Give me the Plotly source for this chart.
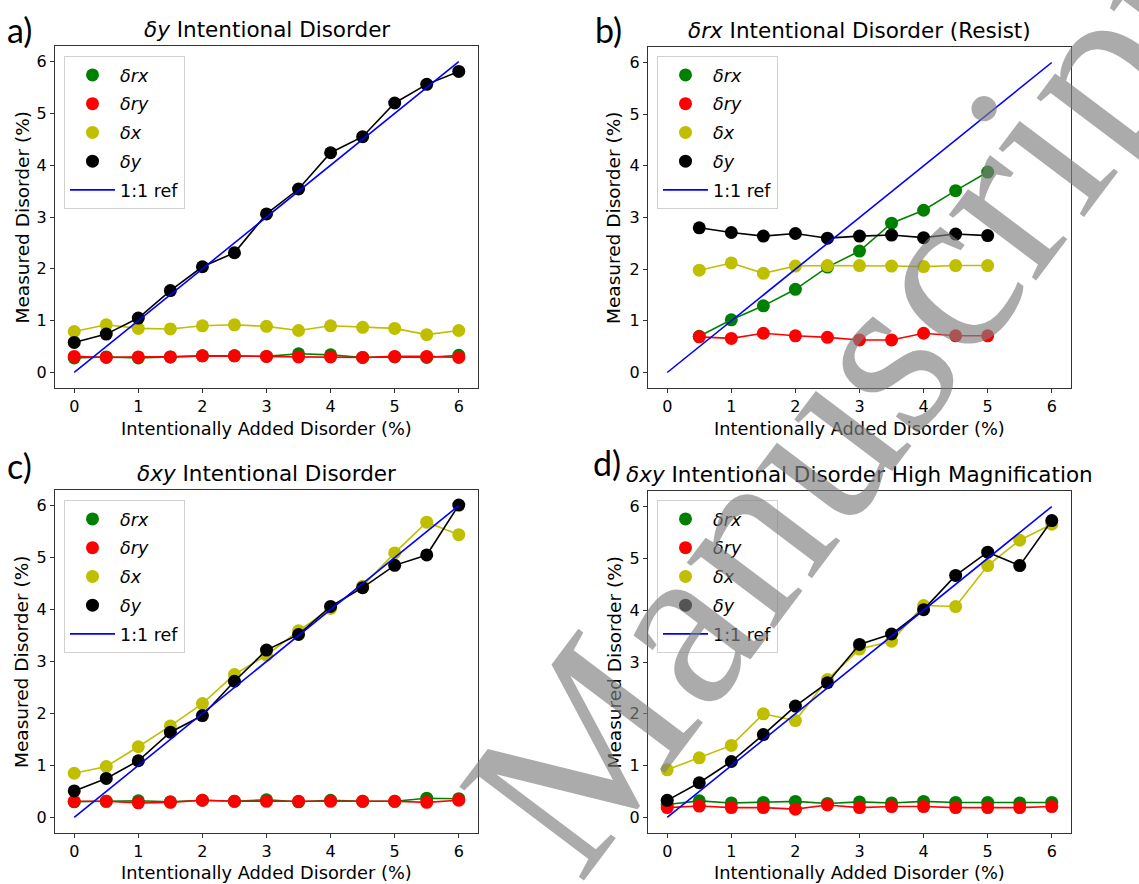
import plotly.graph_objects as go

# ---------------- data ----------------
x_full = [0, 0.5, 1, 1.5, 2, 2.5, 3, 3.5, 4, 4.5, 5, 5.5, 6]
x_b = [0.5, 1, 1.5, 2, 2.5, 3, 3.5, 4, 4.5, 5]
ref_x = [0, 6]
ref_y = [0, 6]

a_rx = [0.28, 0.30, 0.28, 0.30, 0.32, 0.32, 0.31, 0.36, 0.34, 0.29, 0.30, 0.29, 0.33]
a_ry = [0.31, 0.29, 0.30, 0.30, 0.32, 0.32, 0.31, 0.30, 0.30, 0.29, 0.31, 0.31, 0.29]
a_x = [0.79, 0.92, 0.85, 0.84, 0.90, 0.92, 0.89, 0.81, 0.90, 0.87, 0.85, 0.73, 0.81]
a_y = [0.58, 0.74, 1.05, 1.58, 2.04, 2.31, 3.06, 3.54, 4.24, 4.55, 5.20, 5.56, 5.81]

b_rx = [0.70, 1.02, 1.29, 1.61, 2.04, 2.35, 2.89, 3.14, 3.52, 3.88]
b_ry = [0.69, 0.66, 0.76, 0.71, 0.68, 0.63, 0.63, 0.76, 0.71, 0.71]
b_x = [1.98, 2.12, 1.92, 2.06, 2.07, 2.07, 2.06, 2.05, 2.07, 2.07]
b_y = [2.80, 2.71, 2.64, 2.69, 2.60, 2.64, 2.66, 2.61, 2.68, 2.65]

c_rx = [0.30, 0.31, 0.32, 0.30, 0.33, 0.31, 0.34, 0.30, 0.33, 0.31, 0.31, 0.37, 0.36]
c_ry = [0.31, 0.31, 0.28, 0.29, 0.33, 0.31, 0.31, 0.31, 0.31, 0.31, 0.31, 0.29, 0.33]
c_x = [0.85, 0.98, 1.36, 1.76, 2.19, 2.75, 3.12, 3.59, 4.02, 4.45, 5.09, 5.68, 5.44]
c_y = [0.51, 0.75, 1.09, 1.64, 1.96, 2.62, 3.22, 3.52, 4.06, 4.42, 4.85, 5.05, 6.01]

d_rx = [0.25, 0.32, 0.28, 0.29, 0.31, 0.27, 0.30, 0.28, 0.31, 0.29, 0.29, 0.28, 0.29]
d_ry = [0.19, 0.22, 0.19, 0.19, 0.16, 0.24, 0.19, 0.21, 0.21, 0.19, 0.19, 0.19, 0.21]
d_x = [0.92, 1.15, 1.39, 2.00, 1.87, 2.66, 3.25, 3.40, 4.09, 4.07, 4.86, 5.35, 5.66]
d_y = [0.33, 0.67, 1.08, 1.60, 2.15, 2.60, 3.34, 3.54, 4.01, 4.67, 5.12, 4.86, 5.73]

series_names = ["<i>δrx</i>", "<i>δry</i>", "<i>δx</i>", "<i>δy</i>"]
series_colors = ["#008000", "#ff0000", "#bfbf00", "#000000"]
ref_name = "1:1 ref"
ref_color = "#0000ff"

panel_labels = ["a)", "b)", "c)", "d)"]
panel_titles = [
    "<i>δy</i> Intentional Disorder",
    "<i>δrx</i> Intentional Disorder (Resist)",
    "<i>δxy</i> Intentional Disorder",
    "<i>δxy</i> Intentional Disorder High Magnification",
]
x_title = "Intentionally Added Disorder (%)"
y_title = "Measured Disorder (%)"
tick_vals = [0, 1, 2, 3, 4, 5, 6]
watermark = "Manuscript"

panels = [
    (x_full, [a_rx, a_ry, a_x, a_y]),
    (x_b, [b_rx, b_ry, b_x, b_y]),
    (x_full, [c_rx, c_ry, c_x, c_y]),
    (x_full, [d_rx, d_ry, d_x, d_y]),
]

# ---------------- layout geometry (pixels) ----------------
W, H = 1139, 884
boxes = [  # left, right, top, bottom
    (55, 478, 46, 388),
    (648, 1071, 47, 388),
    (55, 478, 490, 833),
    (648, 1071, 491, 833),
]
label_pos = [(5, 30), (593, 30), (5, 465), (591, 462)]
xlabel_mid = [428.5, 428.5, 872, 872]
ylabel_x = [21.5, 613.5, 21.5, 613.5]
legend_pos = [(64, 56), (657, 56), (64, 500), (657, 500)]


def px(x):
    return x / W


def py(y):
    return 1 - y / H


FONT = "DejaVu Sans"
fig = go.Figure()
annotations = []
layout = dict(
    width=W,
    height=H,
    margin=dict(l=0, r=0, t=0, b=0),
    paper_bgcolor="white",
    plot_bgcolor="white",
    font=dict(family=FONT, color="black", size=16),
)

for i, (xs, ys) in enumerate(panels):
    k = "" if i == 0 else str(i + 1)
    xa, ya = "x" + k, "y" + k
    leg = "legend" if i == 0 else "legend" + str(i + 1)
    for j, (vals, col, nm) in enumerate(zip(ys, series_colors, series_names)):
        fig.add_trace(go.Scatter(
            x=xs, y=vals, mode="lines", line=dict(color=col, width=1.6),
            showlegend=False, xaxis=xa, yaxis=ya, hoverinfo="skip",
        ))
        fig.add_trace(go.Scatter(
            x=xs, y=vals, mode="markers", marker=dict(color=col, size=13),
            name=nm, legend=leg, legendgroup=f"g{i}_{j}", xaxis=xa, yaxis=ya,
        ))
    fig.add_trace(go.Scatter(
        x=ref_x, y=ref_y, mode="lines", line=dict(color=ref_color, width=1.6),
        name=ref_name, legend=leg, legendgroup=f"g{i}_ref", xaxis=xa, yaxis=ya,
    ))

    l, r, t, b = boxes[i]
    axis_common = dict(
        range=[-0.3, 6.3], tickvals=tick_vals, showgrid=False, zeroline=False,
        showline=True, linecolor="#333333", linewidth=1.2, mirror=True,
        ticks="outside", ticklen=4, tickwidth=1, tickcolor="#333333",
        tickfont=dict(family=FONT, size=16, color="black"),
    )
    layout["xaxis" + k] = dict(axis_common, domain=[px(l), px(r)], anchor=ya)
    layout["yaxis" + k] = dict(axis_common, domain=[py(b), py(t)], anchor=xa)

    lx, ly = legend_pos[i]
    layout[leg] = dict(
        x=px(lx), y=py(ly), xanchor="left", yanchor="top",
        bgcolor="white", bordercolor="#d0d0d0", borderwidth=1,
        font=dict(family=FONT, size=17.5, color="black"),
        itemwidth=45, tracegroupgap=3, traceorder="grouped",
    )

    # panel label
    plx, ply = label_pos[i]
    annotations.append(dict(
        text=panel_labels[i], x=px(plx), y=py(ply), xref="paper", yref="paper",
        xanchor="left", yanchor="middle", showarrow=False,
        font=dict(family="Lato", size=34, color="black"),
    ))
    # title
    annotations.append(dict(
        text=panel_titles[i], x=px((l + r) / 2), y=py(t), xref="paper", yref="paper",
        xanchor="center", yanchor="bottom", yshift=2, showarrow=False,
        font=dict(family=FONT, size=21.5, color="black"),
    ))
    # x title
    annotations.append(dict(
        text=x_title, x=px((l + r) / 2), y=py(xlabel_mid[i]), xref="paper", yref="paper",
        xanchor="center", yanchor="middle", showarrow=False,
        font=dict(family=FONT, size=17.8, color="black"),
    ))
    # y title
    annotations.append(dict(
        text=y_title, x=px(ylabel_x[i]), y=py((t + b) / 2), xref="paper", yref="paper",
        xanchor="center", yanchor="middle", textangle=-90, showarrow=False,
        font=dict(family=FONT, size=18.5, color="black"),
    ))

# watermark
annotations.append(dict(
    text=watermark, x=px(842), y=py(405), xref="paper", yref="paper",
    xanchor="center", yanchor="middle", textangle=-53, showarrow=False,
    font=dict(family="Liberation Serif", size=238, color="rgba(128,128,128,0.66)"),
))

layout["annotations"] = annotations
fig.update_layout(**layout)
fig.write_html("out.html")
